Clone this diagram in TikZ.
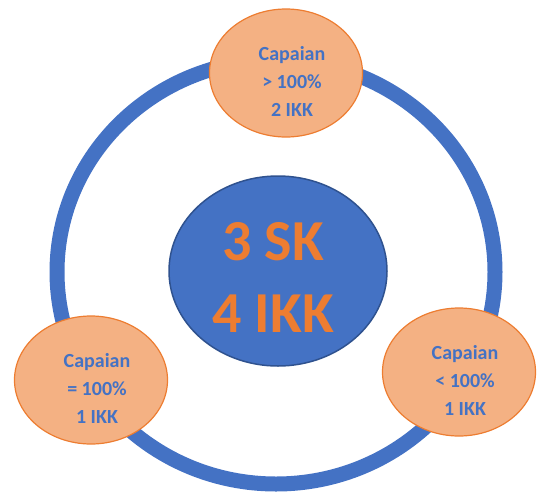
\documentclass[tikz,border=0pt]{standalone}
\usepackage{fontspec}
\setmainfont{Carlito}
\usetikzlibrary{shapes.geometric}
\definecolor{ringblue}{HTML}{4472C4}
\definecolor{darkblue}{HTML}{2F528F}
\definecolor{peach}{HTML}{F4B183}
\definecolor{burnt}{HTML}{ED7D31}

\begin{document}
\begin{tikzpicture}[x=1pt, y=-1pt,
  bubble/.style={ellipse, draw=burnt, fill=peach, line width=1.2pt, minimum width=153pt, minimum height=128pt},
  bubbletext/.style={align=center, inner sep=0pt, text=ringblue, font=\bfseries\fontsize{20}{28}\selectfont},
  hub/.style={ellipse, draw=darkblue, fill=ringblue, line width=1.5pt, minimum width=218pt, minimum height=190pt},
  hubtext/.style={align=center, inner sep=0pt, text=burnt, font=\bfseries\fontsize{58}{72}\selectfont}]
\useasboundingbox (0,0) rectangle (540,493);
\draw[ringblue, line width=15pt] (276,272) ellipse [x radius=219, y radius=212];
\node[hub] (sk) at (278,271) {};
\node[hubtext] at ([shift={(-5,6)}]sk.center) {3 SK\\4 IKK};
\node[bubble] (high) at (286,73) {};
\node[bubbletext] at ([shift={(6,8)}]high.center) {Capaian\\> 100\%\\2 IKK};
\node[bubble] (equal) at (91,380) {};
\node[bubbletext] at ([shift={(6,8)}]equal.center) {Capaian\\= 100\%\\1 IKK};
\node[bubble] (low) at (459,372) {};
\node[bubbletext] at ([shift={(6,8)}]low.center) {Capaian\\< 100\%\\1 IKK};
\end{tikzpicture}
\end{document}
